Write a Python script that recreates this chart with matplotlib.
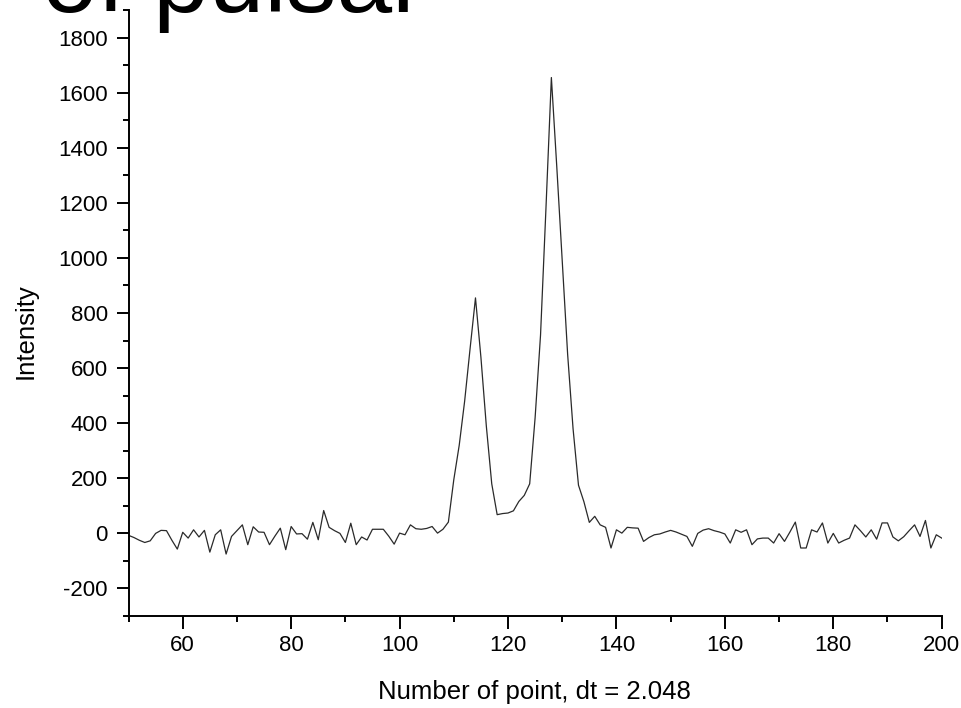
import matplotlib
matplotlib.use("Agg")
import matplotlib.pyplot as plt
from matplotlib.ticker import MultipleLocator

plt.rcParams['font.family'] = ['Liberation Sans', 'DejaVu Sans']
plt.rcParams['axes.unicode_minus'] = False

# point number (one sample per point) and measured intensity
points = list(range(50, 201))
intensity = [
    -7, -15, -25, -33, -27, 0, 11, 10, -25, -57,        # 50-59
    4, -17, 13, -13, 11, -68, -5, 13, -75, -11,         # 60-69
    10, 31, -41, 24, 5, 4, -41, -10, 19, -59,           # 70-79
    25, -2, -1, -21, 40, -23, 83, 22, 10, 0,            # 80-89
    -33, 37, -41, -13, -24, 15, 15, 15, -10, -39,       # 90-99
    1, -5, 31, 17, 15, 18, 25, 1, 15, 41,               # 100-109
    195, 320, 480, 670, 855, 640, 390, 180, 68, 72,     # 110-119
    74, 82, 116, 138, 180, 420, 720, 1180, 1655, 1330,  # 120-129
    990, 650, 380, 175, 115, 40, 62, 31, 22, -53,       # 130-139
    13, 1, 22, 20, 19, -29, -15, -5, -2, 5,             # 140-149
    11, 5, -3, -11, -47, 0, 12, 17, 10, 5,              # 150-159
    -2, -35, 13, 4, 13, -41, -20, -17, -17, -35,        # 160-169
    -1, -29, 5, 41, -53, -53, 13, 5, 38, -35,           # 170-179
    0, -35, -25, -17, 31, 10, -13, 13, -21, 38,         # 180-189
    38, -13, -27, -12, 10, 31, -11, 47, -53, -5,        # 190-199
    -17,                                                # 200
]

title_text = "of pulsar"
x_label = "Number of point, dt = 2.048"
y_label = "Intensity"

fig = plt.figure(figsize=(9.62, 7.08), dpi=100)
ax = fig.add_axes([0.1336, 0.1299, 0.8453, 0.8559])

ax.plot(points, intensity, color='#2a2a2a', lw=0.9)

ax.set_xlim(50, 200)
ax.set_ylim(-300, 1900)
ax.xaxis.set_major_locator(MultipleLocator(20))
ax.xaxis.set_minor_locator(MultipleLocator(10))
ax.yaxis.set_major_locator(MultipleLocator(200))
ax.yaxis.set_minor_locator(MultipleLocator(100))

for side in ['top', 'right']:
    ax.spines[side].set_visible(False)
for side in ['left', 'bottom']:
    ax.spines[side].set_linewidth(1.4)

ax.tick_params(which='major', direction='out', length=9, width=1.4, labelsize=16)
ax.tick_params(which='minor', direction='out', length=4.5, width=1.4)
ax.tick_params(axis='x', which='major', pad=5)
ax.tick_params(axis='y', which='major', pad=6)

# axis titles placed like the original
fig.text(534 / 962, 1 - 692 / 708, x_label, ha='center', va='center', fontsize=18.5)
fig.text(26 / 962, 1 - 331 / 708, y_label, ha='center', va='center',
         rotation=90, fontsize=18.5)

# slide title, cut off by the top edge
fig.text(42 / 962, 1 - 12 / 708, title_text, ha='left', va='baseline',
         fontsize=72, color='black')

fig.savefig("out.png", dpi=100)
